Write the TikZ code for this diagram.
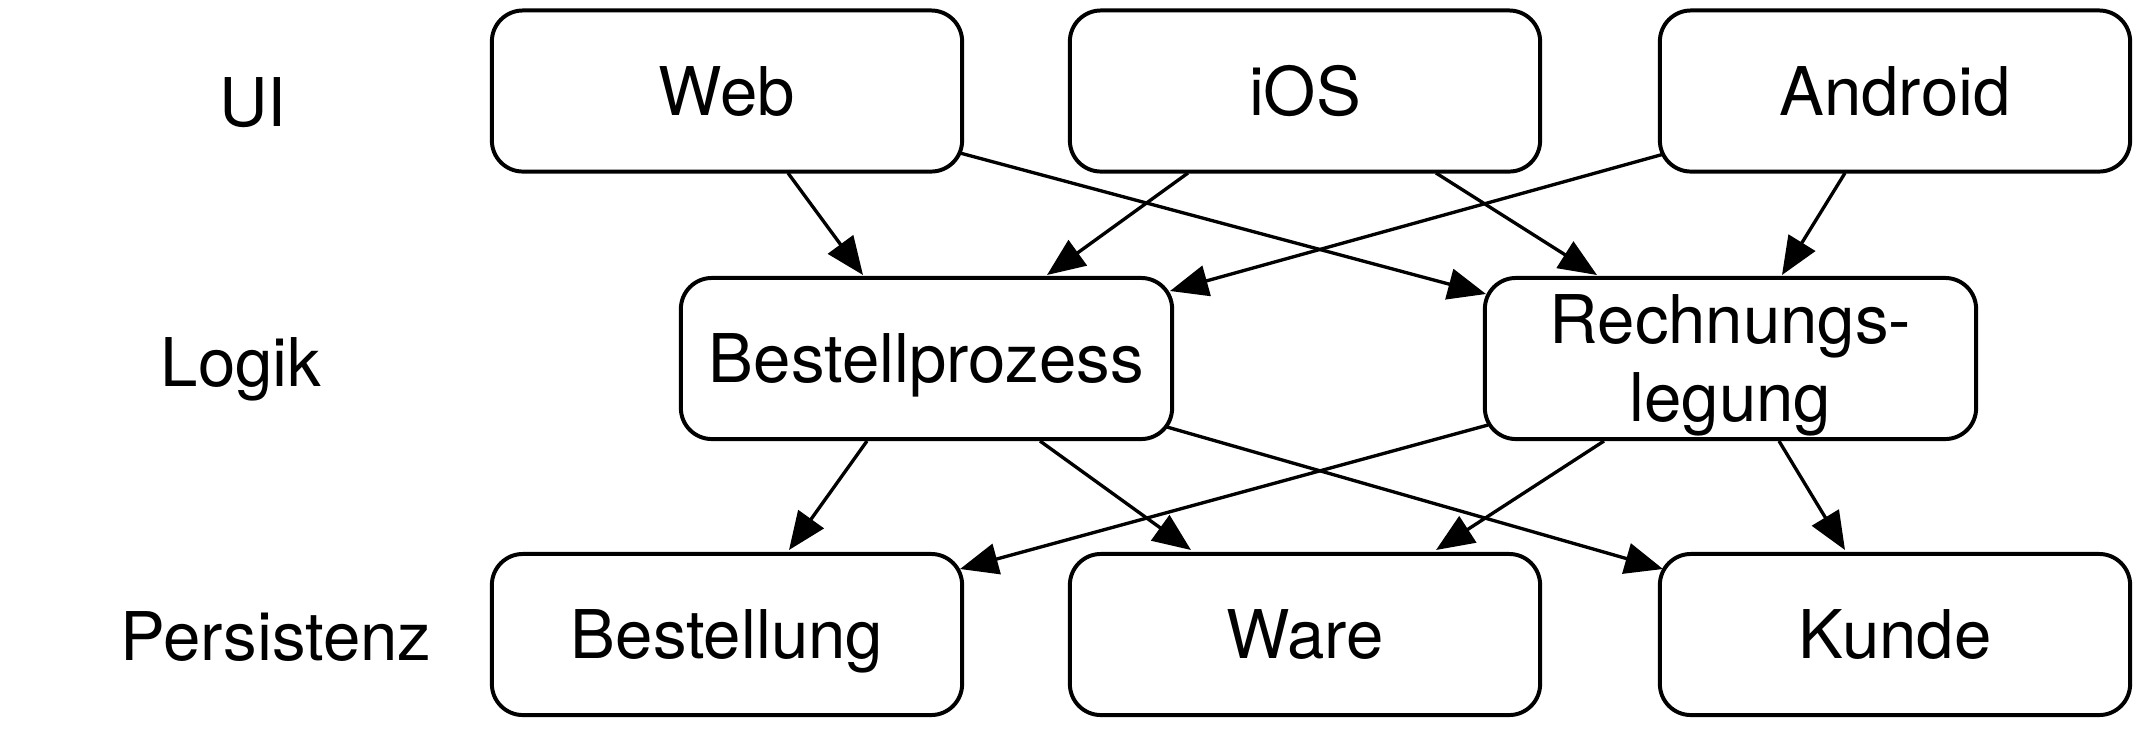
\documentclass[tikz,border=0pt]{standalone}
\usepackage{fontspec}
\setmainfont{TeX Gyre Heros}
\usetikzlibrary{arrows.meta}
\begin{document}
\begin{tikzpicture}[x=0.01cm,y=-0.01cm,
  font=\fontsize{19.1pt}{22pt}\selectfont,
  box/.style={draw, line width=1.13pt, rounded corners=0.31cm,
    minimum width=4.70cm, minimum height=1.61cm, inner sep=0pt,
    text height=13.7pt, text depth=0pt},
  wbox/.style={box, minimum width=4.91cm},
  lbl/.style={inner sep=0pt, text height=13.7pt, text depth=0pt},
  arr/.style={line width=0.95pt, -{Triangle[length=0.38cm,width=0.31cm]}}]
\useasboundingbox (0,0) rectangle (2141,729);
% layer labels
\node[lbl] (lui)  at (253,102) {UI};
\node[lbl] (llog) at (241,362) {Logik};
\node[lbl] (lper) at (276,636) {Persistenz};
% UI row
\node[box] (web) at (727,91)  {Web};
\node[box] (ios) at (1305,91) {iOS};
\node[box] (and) at (1895,91) {Android};
% logic row
\node[wbox] (bp) at (926.5,358.5) {Bestellprozess};
\node[wbox, align=center, text height=35.7pt, text depth=0pt] (rl) at (1730.5,358.5) {Rechnungs-\\legung};
% persistence row
\node[box] (bg)    at (727,634.5)  {Bestellung};
\node[box] (ware)  at (1305,634.5) {Ware};
\node[box] (kunde) at (1895,634.5) {Kunde};
% connectors UI -> logic
\draw[arr] ([shift={(61,82)}]web.center)   -- ([shift={(-63.5,-83.5)}]bp.center);
\draw[arr] ([shift={(233,62)}]web.center)  -- ([shift={(-244.5,-64.5)}]rl.center);
\draw[arr] ([shift={(-117,82)}]ios.center) -- ([shift={(120.5,-83.5)}]bp.center);
\draw[arr] ([shift={(131,82)}]ios.center)  -- ([shift={(-133.5,-83.5)}]rl.center);
\draw[arr] ([shift={(-231,63)}]and.center) -- ([shift={(243.5,-67.5)}]bp.center);
\draw[arr] ([shift={(-50,82)}]and.center)  -- ([shift={(51.5,-83.5)}]rl.center);
% connectors logic -> persistence
\draw[arr] ([shift={(-59.5,82.5)}]bp.center) -- ([shift={(62,-84.5)}]bg.center);
\draw[arr] ([shift={(113.5,82.5)}]bp.center) -- ([shift={(-114,-84.5)}]ware.center);
\draw[arr] ([shift={(240.5,68.5)}]bp.center) -- ([shift={(-232,-65.5)}]kunde.center);
\draw[arr] ([shift={(-242.5,66.5)}]rl.center) -- ([shift={(233,-65.5)}]bg.center);
\draw[arr] ([shift={(-126.5,82.5)}]rl.center) -- ([shift={(131,-84.5)}]ware.center);
\draw[arr] ([shift={(48.5,82.5)}]rl.center)   -- ([shift={(-50,-84.5)}]kunde.center);
\end{tikzpicture}
\end{document}
